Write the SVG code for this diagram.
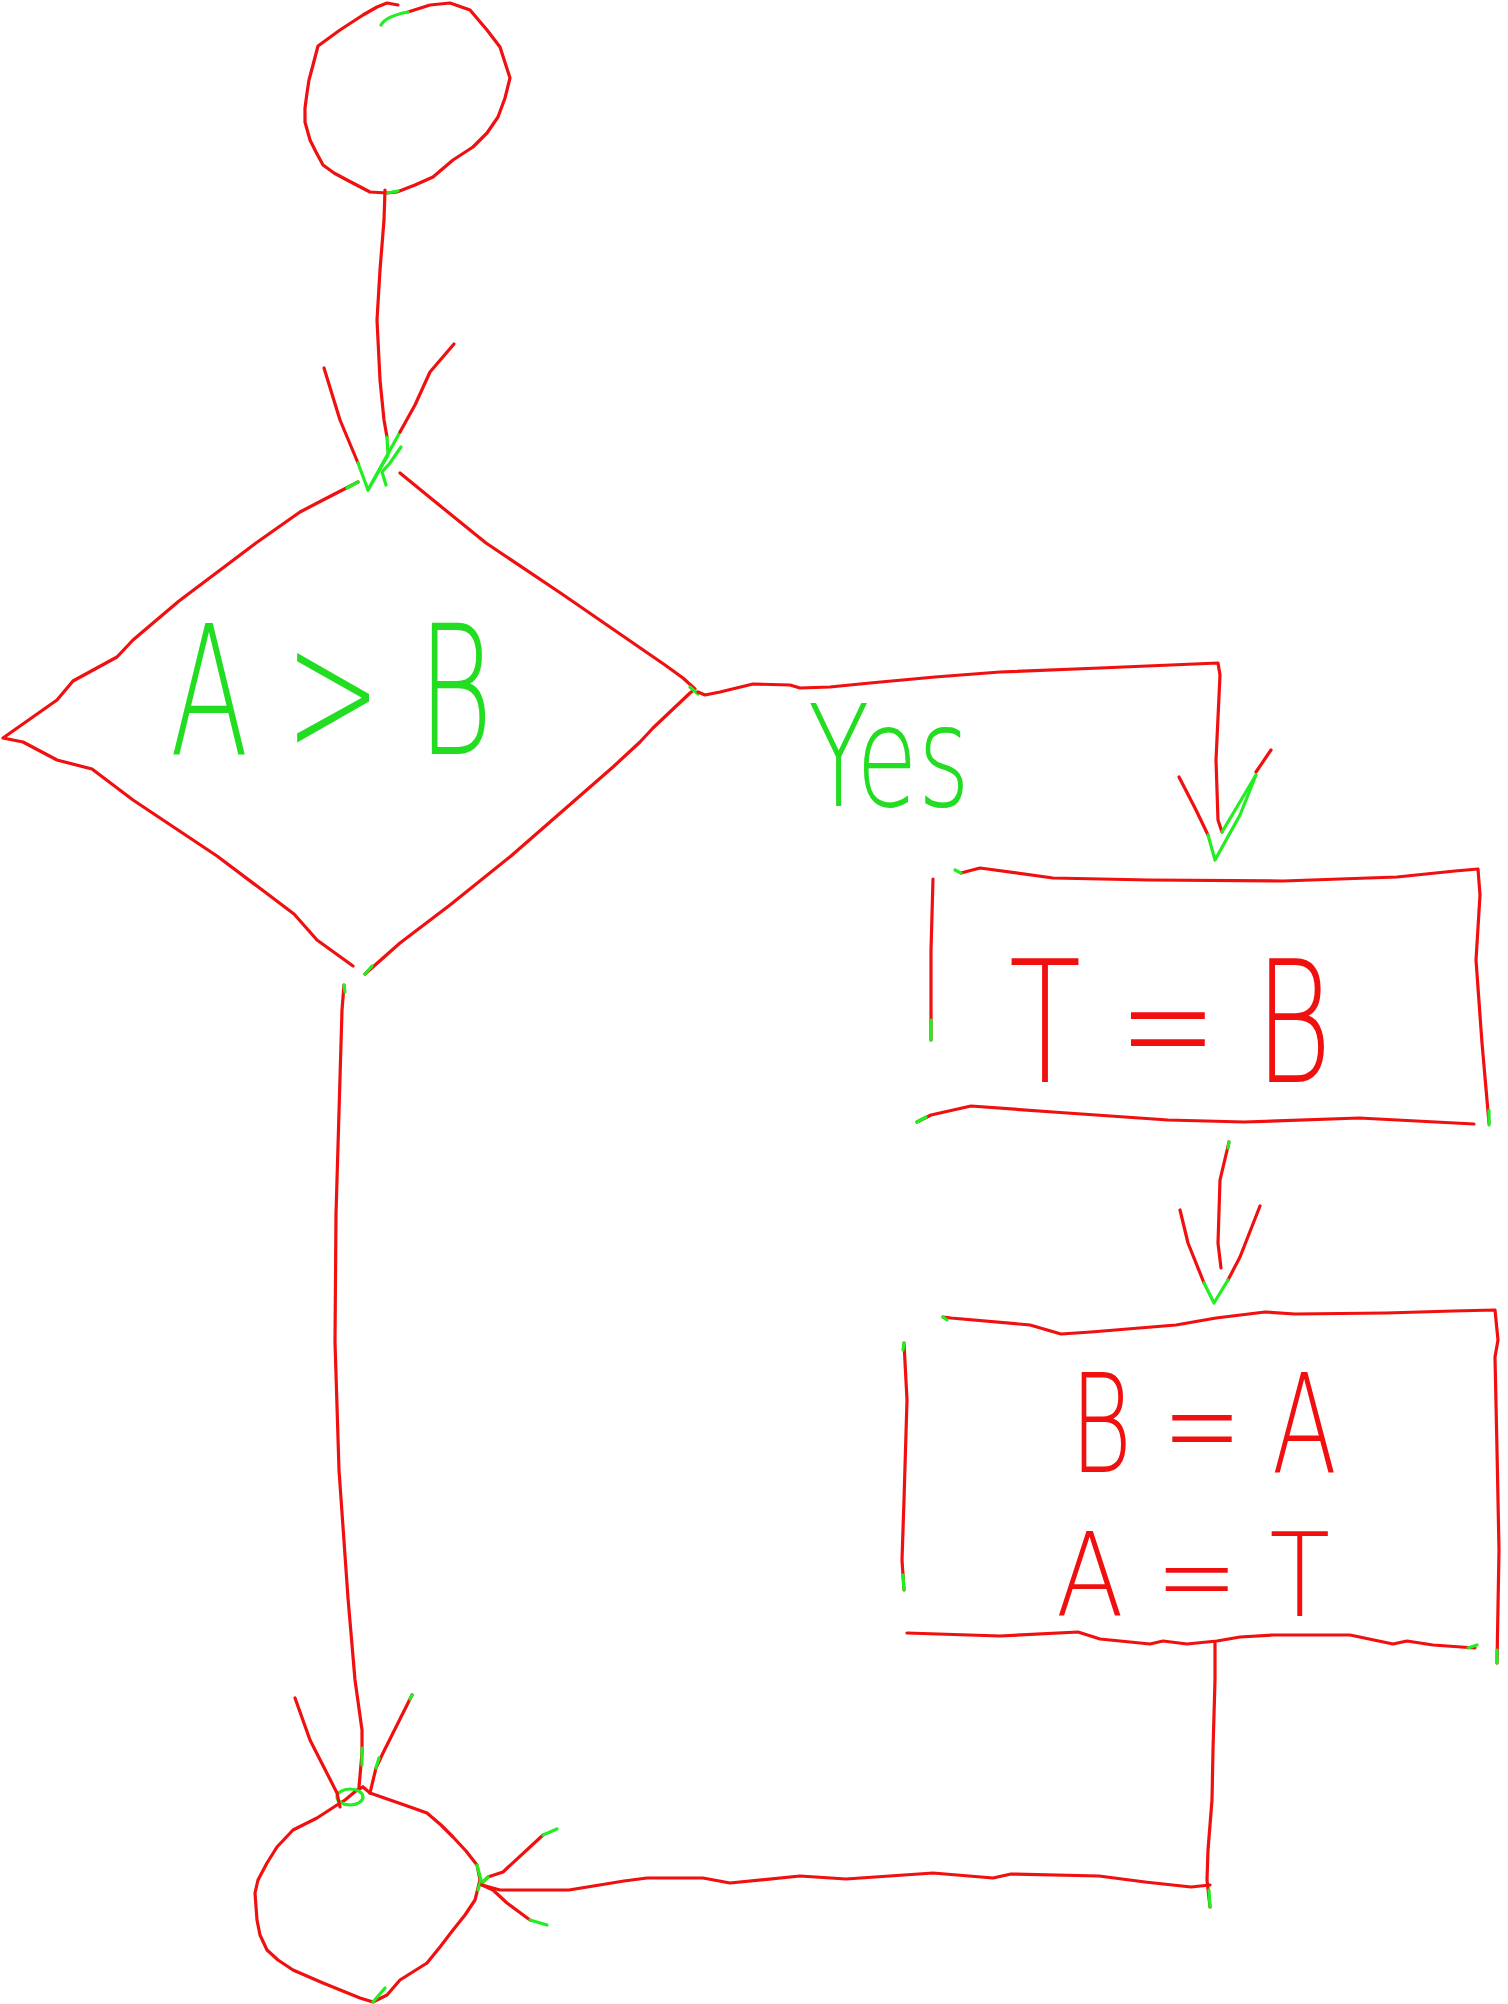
<svg xmlns="http://www.w3.org/2000/svg" width="1508" height="2004" viewBox="0 0 1508 2004">
<style>
.r{fill:none;stroke:#f01010;stroke-width:3.2;stroke-linecap:round;stroke-linejoin:round}
.g{fill:none;stroke:#22ee22;stroke-width:3.2;stroke-linecap:round;stroke-linejoin:round}
.t{font-family:"DejaVu Sans","Liberation Sans",sans-serif;font-weight:200;fill:#f01010}
.tg{fill:#22dd22}
</style>
<rect width="1508" height="2004" fill="#ffffff"/>

<g id="start">
<path class="r" d="M398,5 L387,3 L377,7 L363,15 L340,30 L318,46 L313,65 L309,80 L307,93 L305,108 L305,122 L310,140 L316,152 L323,165 L334,173 L347,180 L370,192 L387,193 L397,192 L415,185 L433,177 L453,160 L473,147 L487,133 L498,117 L505,98 L510,78 L500,47 L487,30 L470,10 L450,3 L430,5 L408,12"/>
<path class="g" d="M381,25 Q386,16 408,12"/>
<path class="g" d="M387,193 L398,191"/>
</g>

<g id="decision">
<path class="r" d="M358,482 L323,500 L300,512 L256,543 L179,601 L133,640 L117,657 L73,681 L57,700 L3,738 L23,742 L57,760 L92,769 L133,800 L193,840 L217,856 L294,914 L317,940 L353,966"/>
<path class="r" d="M400,473 L433,500 L486,543 L562,594 L665,665 L683,678 L695,689 L690,693 L653,728 L640,742 L613,767 L511,856 L450,905 L400,943 L365,974"/>
<path class="g" d="M358,482 L347,488"/>
<path class="g" d="M365,974 L372,966"/>
<path class="g" d="M690,687 L698,694"/>
<text class="t tg" x="170" y="754" font-size="180" textLength="323" lengthAdjust="spacingAndGlyphs">A &gt; B</text>
</g>

<g id="proc1">
<path class="r" d="M961,873 L980,868 L1053,878 L1149,880 L1283,881 L1397,877 L1455,871 L1478,869 L1480,895 L1476,960 L1482,1043 L1489,1123"/>
<path class="r" d="M933,879 L931,950 L931,1040"/>
<path class="r" d="M917,1122 L931,1115 L971,1106 L1053,1112 L1168,1120 L1244,1122 L1359,1118 L1474,1124"/>
<path class="g" d="M961,873 L955,870"/>
<path class="g" d="M931,1020 L931,1040"/>
<path class="g" d="M917,1122 L926,1117"/>
<path class="g" d="M1489,1110 L1489,1125"/>
<text class="t" x="1009" y="1082" font-size="170" textLength="323" lengthAdjust="spacingAndGlyphs">T = B</text>
</g>

<g id="proc2">
<path class="r" d="M943,1317 L951,1318 L1030,1325 L1061,1334 L1091,1332 L1176,1325 L1216,1318 L1265,1312 L1295,1314 L1386,1313 L1453,1311 L1495,1310 L1498,1340 L1495,1357 L1497,1450 L1499,1550 L1497,1663"/>
<path class="r" d="M904,1343 L907,1400 L904,1500 L902,1560 L904,1590"/>
<path class="r" d="M907,1633 L1000,1636 L1078,1632 L1100,1639 L1150,1644 L1163,1641 L1187,1644 L1217,1641 L1240,1637 L1273,1635 L1350,1635 L1393,1644 L1407,1641 L1433,1645 L1475,1648"/>
<path class="g" d="M943,1317 L947,1320"/>
<path class="g" d="M904,1343 L903,1350"/>
<path class="g" d="M903,1575 L904,1590"/>
<path class="g" d="M1497,1650 L1497,1663"/>
<path class="g" d="M1468,1648 L1477,1645"/>
<text class="t" x="1070" y="1472" font-size="138" textLength="267" lengthAdjust="spacingAndGlyphs">B = A</text>
<text class="t" x="1056" y="1616" font-size="116" textLength="274" lengthAdjust="spacingAndGlyphs">A = T</text>
</g>

<g id="end">
<path class="r" d="M363,1787 L370,1793 L413,1808 L427,1813 L441,1825 L453,1837 L466,1851 L477,1865 L480,1880 L475,1900 L465,1915 L453,1930 L440,1947 L427,1963 L400,1980 L387,1995 L373,2002 L360,1998 L323,1983 L293,1970 L278,1960 L267,1950 L260,1935 L257,1920 L255,1893 L258,1880 L267,1863 L277,1847 L293,1830 L317,1818 L337,1805 L345,1800 L357,1790 L363,1787"/>
<ellipse class="g" cx="350" cy="1797" rx="13" ry="8"/>
<path class="g" d="M477,1865 L481,1880 L478,1890"/>
<path class="g" d="M373,2002 L385,1988"/>
</g>

<g id="connectors">
<path class="r" d="M385,190 L384,220 L380,270 L377,320 L380,380 L384,420 L387,437"/>
<path class="g" d="M387,437 L388,455 L368,490"/>
<path class="r" d="M324,368 L340,420 L358,463"/>
<path class="g" d="M358,463 L368,490 L400,432"/>
<path class="r" d="M454,344 L430,372 L415,405 L400,432"/>
<path class="g" d="M401,447 L390,463 L382,472 L386,485"/>
<path class="r" d="M698,692 L705,695 L720,692 L753,684 L790,685 L800,688 L830,687 L870,683 L935,677 L1000,672 L1100,668 L1218,663 L1220,675 L1216,760 L1218,820 L1222,832"/>
<path class="r" d="M1179,777 L1196,810 L1208,835"/>
<path class="g" d="M1208,835 L1215,860 L1240,815 L1256,775"/>
<path class="r" d="M1271,750 L1256,772"/>
<path class="g" d="M1256,775 L1222,832"/>
<text class="t tg" x="808" y="806" font-size="140" textLength="162" lengthAdjust="spacingAndGlyphs">Yes</text>
<path class="r" d="M1229,1142 L1220,1180 L1218,1243 L1221,1268"/>
<path class="g" d="M1229,1142 L1228,1148"/>
<path class="r" d="M1180,1210 L1188,1243 L1204,1283"/>
<path class="r" d="M1260,1206 L1240,1257 L1228,1280"/>
<path class="g" d="M1204,1283 L1214,1303 L1228,1280"/>
<path class="r" d="M344,985 L342,1010 L339,1112 L336,1214 L335,1342 L339,1470 L348,1598 L355,1680 L362,1730 L362,1753 L359,1787"/>
<path class="g" d="M344,985 L345,992"/>
<path class="g" d="M362,1748 L362,1765"/>
<path class="r" d="M295,1698 L310,1740 L337,1793 L340,1807"/>
<path class="r" d="M412,1695 L383,1753 L376,1768 L370,1793"/>
<path class="g" d="M412,1695 L410,1699"/>
<path class="g" d="M379,1758 L376,1768"/>
<path class="r" d="M1215,1643 L1215,1680 L1213,1750 L1212,1800 L1208,1850 L1207,1880 L1210,1907"/>
<path class="g" d="M1209,1890 L1210,1907"/>
<path class="r" d="M1210,1885 L1191,1887 L1145,1882 L1099,1876 L1011,1874 L993,1878 L933,1873 L846,1879 L800,1876 L730,1883 L703,1878 L647,1878 L624,1881 L569,1890 L500,1890 L482,1885"/>
<path class="r" d="M543,1835 L503,1872 L488,1877 L482,1883"/>
<path class="g" d="M557,1829 L543,1835"/>
<path class="g" d="M488,1877 L482,1883"/>
<path class="r" d="M530,1920 L507,1903 L493,1890 L482,1885"/>
<path class="g" d="M547,1925 L530,1920"/>
</g>
</svg>
